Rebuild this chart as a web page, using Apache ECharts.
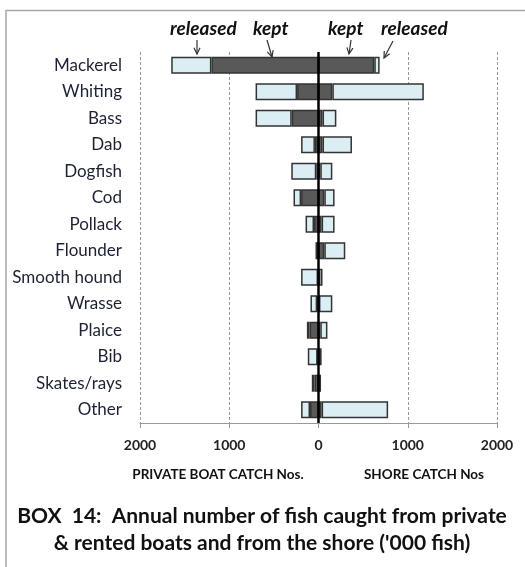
<!DOCTYPE html>
<html>
<head>
<meta charset="utf-8">
<script src="https://cdn.jsdelivr.net/npm/echarts@6/dist/echarts.min.js"></script>
<style>
  html, body { margin: 0; padding: 0; background: #fff; }
  #chart { width: 525px; height: 567px; }
</style>
</head>
<body>
<div id="chart"></div>
<script>
// fish species, top to bottom
var categories = ["Mackerel", "Whiting", "Bass", "Dab", "Dogfish", "Cod", "Pollack",
  "Flounder", "Smooth hound", "Wrasse", "Plaice", "Bib", "Skates/rays", "Other"];
// private & rented boats ('000 fish)
var privateKept = [1200, 240, 300, 40, 25, 195, 50, 25, 5, 15, 100, 10, 45, 95];
var privateReleased = [450, 465, 405, 155, 280, 85, 95, 0, 190, 75, 30, 110, 30, 100];
// shore ('000 fish)
var shoreKept = [625, 155, 45, 45, 20, 65, 35, 65, 5, 5, 20, 5, 20, 35];
var shoreReleased = [60, 1025, 155, 330, 135, 115, 145, 235, 40, 150, 80, 30, 0, 745];

var font = "Lato";
var dark = "#595959";
var light = "#dbeef4";

function neg(arr) {
  return arr.map(function (v) { return -v; });
}

function barSeries(name, data, color) {
  return {
    name: name,
    type: "bar",
    stack: "all",
    barWidth: "64%",
    data: data,
    itemStyle: {
      color: color,
      borderColor: "#333",
      borderWidth: 1.5
    }
  };
}

var series = [
  barSeries("Private kept", neg(privateKept), dark),
  barSeries("Private released", neg(privateReleased), light),
  barSeries("Shore kept", shoreKept, dark),
  barSeries("Shore released", shoreReleased, light)
];
// zero line
series[0].markLine = {
  silent: true,
  symbol: "none",
  label: { show: false },
  lineStyle: { color: "#000", width: 2.5, type: "solid" },
  data: [{ xAxis: 0 }]
};

// little hand-drawn style arrow
function arrow(x1, y1, x2, y2) {
  var ang = Math.atan2(y2 - y1, x2 - x1);
  var h = 7;
  var a1 = ang + Math.PI - 0.45, a2 = ang + Math.PI + 0.45;
  return [
    { type: "polyline", shape: { points: [[x1, y1], [x2, y2]] }, style: { stroke: "#333", lineWidth: 1.2, fill: null } },
    { type: "polyline", shape: { points: [[x2 + h * Math.cos(a1), y2 + h * Math.sin(a1)], [x2, y2], [x2 + h * Math.cos(a2), y2 + h * Math.sin(a2)]] }, style: { stroke: "#333", lineWidth: 1.2, fill: null } }
  ];
}

function txt(text, x, y, size, align, extra) {
  return {
    type: "text", x: x, y: y,
    style: {
      text: text, font: (extra || "bold") + " " + size + "px " + font, fill: "#111",
      align: align, verticalAlign: "middle", lineHeight: 27
    }
  };
}

var graphics = [
  { type: "polyline", shape: { points: [[6, 567], [6, 10.5], [525, 10.5]] }, style: { stroke: "#a8a8a8", lineWidth: 1.5, fill: null } },
  txt("released", 170, 29, 19, "left", "italic bold"),
  txt("kept", 253, 29, 19, "left", "italic bold"),
  txt("kept", 328, 29, 19, "left", "italic bold"),
  txt("released", 381, 29, 19, "left", "italic bold"),
  txt("PRIVATE BOAT CATCH Nos.", 218, 475, 13.5, "center"),
  txt("SHORE CATCH Nos", 424, 475, 13.5, "center"),
  txt("BOX  14:  Annual number of fish caught from private\n& rented boats and from the shore ('000 fish)", 262, 530, 21, "center")
].concat(arrow(197, 40, 197, 54), arrow(267, 40, 272, 57), arrow(351, 40, 349, 54), arrow(393, 41, 384, 58));

var chart = echarts.init(document.getElementById("chart"));
chart.setOption({
  animation: false,
  textStyle: { fontFamily: font },
  grid: { left: 140, right: 28, top: 52, bottom: 144, containLabel: false },
  xAxis: {
    type: "value",
    min: -2000,
    max: 2000,
    interval: 1000,
    axisLine: { show: true, lineStyle: { color: "#999", width: 1.2 } },
    axisTick: { show: true, length: 5, lineStyle: { color: "#999" } },
    axisLabel: {
      margin: 15,
      fontSize: 14,
      fontWeight: "bold",
      color: "#222",
      formatter: function (v) { return Math.abs(v); }
    },
    splitLine: { show: true, lineStyle: { color: "#999", type: [3, 2], width: 1 } }
  },
  yAxis: {
    type: "category",
    inverse: true,
    data: categories,
    axisLine: { show: false },
    axisTick: { show: false },
    axisLabel: { margin: 18, fontSize: 17, color: "#1c2233" }
  },
  series: series,
  graphic: graphics
});
</script>
</body>
</html>
